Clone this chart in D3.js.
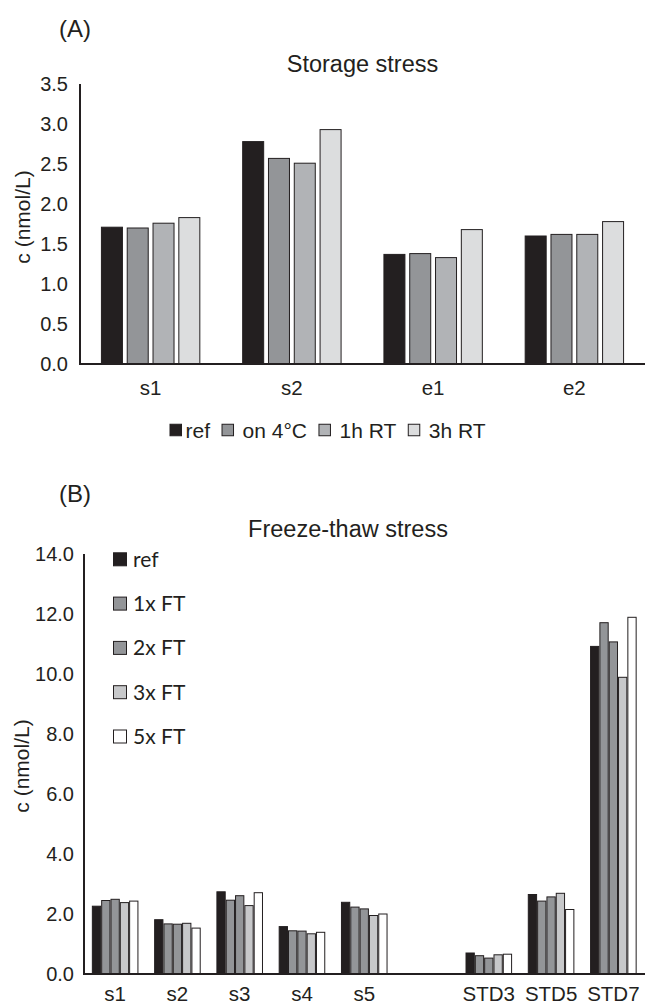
<!DOCTYPE html>
<html>
<head>
<meta charset="utf-8">
<script src="https://cdn.jsdelivr.net/npm/d3@7"></script>
<style>
  html, body { margin: 0; padding: 0; background: #ffffff; }
  svg { display: block; }
  text { fill: #231f20; font-family: "Liberation Sans", Arial, Helvetica, sans-serif; }
</style>
</head>
<body>
<script>
// ---------- Data: panel A (Storage stress) ----------
const catsA = ["s1", "s2", "e1", "e2"];
const seriesA = ["ref", "on 4°C", "1h RT", "3h RT"];
const refA   = [1.71, 2.78, 1.37, 1.60];
const on4A   = [1.70, 2.57, 1.38, 1.62];
const rt1hA  = [1.76, 2.51, 1.33, 1.62];
const rt3hA  = [1.83, 2.93, 1.68, 1.78];
const ticksA = [0, 0.5, 1.0, 1.5, 2.0, 2.5, 3.0, 3.5];

// ---------- Data: panel B (Freeze-thaw stress) ----------
const catsB = ["s1", "s2", "s3", "s4", "s5", "", "STD3", "STD5", "STD7"];
const seriesB = ["ref", "1x FT", "2x FT", "3x FT", "5x FT"];
const refB  = [2.26, 1.81, 2.74, 1.58, 2.39, null, 0.70, 2.65, 10.92];
const ft1B  = [2.45, 1.67, 2.46, 1.44, 2.23, null, 0.61, 2.43, 11.71];
const ft2B  = [2.49, 1.66, 2.61, 1.43, 2.17, null, 0.53, 2.57, 11.07];
const ft3B  = [2.38, 1.69, 2.28, 1.34, 1.95, null, 0.64, 2.69, 9.89];
const ft5B  = [2.43, 1.53, 2.71, 1.39, 2.00, null, 0.66, 2.15, 11.89];
const ticksB = [0, 2, 4, 6, 8, 10, 12, 14];

const valuesA = [refA, on4A, rt1hA, rt3hA];
const valuesB = [refB, ft1B, ft2B, ft3B, ft5B];

const colorsA = ["#231f20", "#939598", "#b1b3b6", "#dcddde"];
const colorsB = ["#231f20", "#939598", "#939598", "#c7c8ca", "#ffffff"];
const ink = "#231f20";

const svg = d3.select("body").append("svg")
  .attr("width", 645).attr("height", 1004);

// ================= PANEL A =================
(function () {
  const left = 80, right = 645, top = 84, bottom = 364;
  const x0 = d3.scaleBand().domain(catsA).range([left, right]).padding(0);
  const groupW = 103.2;
  const pin = 0.186;
  const x1 = d3.scaleBand().domain(seriesA)
    .range([(x0.bandwidth() - groupW) / 2, (x0.bandwidth() + groupW) / 2])
    .paddingInner(pin).paddingOuter(pin / 2);
  const y = d3.scaleLinear().domain([0, 3.5]).range([bottom, top]);

  svg.append("text").attr("x", 59).attr("y", 37)
    .style("font-size", "24px").text("(A)");
  svg.append("text").attr("x", (left + right) / 2).attr("y", 72)
    .attr("text-anchor", "middle").style("font-size", "23.5px").text("Storage stress");

  const data = [];
  catsA.forEach((c, i) => seriesA.forEach((s, j) => data.push({ c, s, j, v: valuesA[j][i] })));
  svg.append("g").selectAll("rect").data(data).join("rect")
    .attr("x", d => x0(d.c) + x1(d.s))
    .attr("width", x1.bandwidth())
    .attr("y", d => y(d.v))
    .attr("height", d => y(0) - y(d.v))
    .attr("fill", d => colorsA[d.j])
    .attr("stroke", ink).attr("stroke-width", 1);

  const ya = svg.append("g").attr("transform", `translate(${left},0)`)
    .call(d3.axisLeft(y).tickValues(ticksA).tickFormat(d3.format(".1f")).tickSize(0).tickPadding(12));
  ya.select(".domain").remove();
  ya.selectAll("text").style("font-size", "20px").style("font-family", '"Liberation Sans", Arial, sans-serif').attr("fill", ink);

  const xa = svg.append("g").attr("transform", `translate(0,${bottom})`)
    .call(d3.axisBottom(x0).tickSize(0).tickPadding(16.5));
  xa.select(".domain").remove();
  xa.selectAll("text").style("font-size", "20.5px").style("font-family", '"Liberation Sans", Arial, sans-serif').attr("fill", ink);

  svg.append("line").attr("x1", left).attr("x2", left).attr("y1", top).attr("y2", bottom + 1)
    .attr("stroke", ink).attr("stroke-width", 2);
  svg.append("line").attr("x1", left - 1).attr("x2", right).attr("y1", bottom).attr("y2", bottom)
    .attr("stroke", ink).attr("stroke-width", 2);

  svg.append("text")
    .attr("transform", `translate(30,${(top + bottom) / 2 - 7}) rotate(-90)`)
    .attr("text-anchor", "middle").style("font-size", "21px").text("c (nmol/L)");

  // legend (horizontal)
  const lg = svg.append("g");
  let lx = 170;
  const ly = 430, sw = 11.5;
  seriesA.forEach((s, j) => {
    lg.append("rect").attr("x", lx).attr("y", ly - sw / 2).attr("width", sw).attr("height", sw)
      .attr("fill", colorsA[j]).attr("stroke", ink).attr("stroke-width", 1);
    const t = lg.append("text").attr("x", lx + sw + (j === 0 ? 4 : 9)).attr("y", ly).attr("dy", "0.36em")
      .style("font-size", "21px").text(s);
    lx = lx + sw + (j === 0 ? 4 : 9) + t.node().getComputedTextLength() + 12;
  });
})();

// ================= PANEL B =================
(function () {
  const left = 84, right = 644.5, top = 554, bottom = 974;
  const x0 = d3.scaleBand().domain(catsB).range([left, right]).padding(0);
  const groupW = 46.6;
  const pin = 0.11;
  const x1 = d3.scaleBand().domain(seriesB)
    .range([(x0.bandwidth() - groupW) / 2, (x0.bandwidth() + groupW) / 2])
    .paddingInner(pin).paddingOuter(pin / 2);
  const y = d3.scaleLinear().domain([0, 14]).range([bottom, top]);

  svg.append("text").attr("x", 59).attr("y", 502)
    .style("font-size", "24px").text("(B)");
  svg.append("text").attr("x", 348).attr("y", 537)
    .attr("text-anchor", "middle").style("font-size", "23.5px").text("Freeze-thaw stress");

  const data = [];
  catsB.forEach((c, i) => seriesB.forEach((s, j) => {
    const v = valuesB[j][i];
    if (v != null) data.push({ c, s, j, v });
  }));
  svg.append("g").selectAll("rect").data(data).join("rect")
    .attr("x", d => x0(d.c) + x1(d.s))
    .attr("width", x1.bandwidth())
    .attr("y", d => y(d.v))
    .attr("height", d => y(0) - y(d.v))
    .attr("fill", d => colorsB[d.j])
    .attr("stroke", ink).attr("stroke-width", 1);

  const ya = svg.append("g").attr("transform", `translate(${left},0)`)
    .call(d3.axisLeft(y).tickValues(ticksB).tickFormat(d3.format(".1f")).tickSize(0).tickPadding(10));
  ya.select(".domain").remove();
  ya.selectAll("text").style("font-size", "20px").style("font-family", '"Liberation Sans", Arial, sans-serif').attr("fill", ink);

  const xa = svg.append("g").attr("transform", `translate(0,${bottom})`)
    .call(d3.axisBottom(x0).tickSize(0).tickPadding(12.5));
  xa.select(".domain").remove();
  xa.selectAll("text").style("font-size", "20.5px").style("font-family", '"Liberation Sans", Arial, sans-serif').attr("fill", ink);

  svg.append("line").attr("x1", left).attr("x2", left).attr("y1", top).attr("y2", bottom + 1)
    .attr("stroke", ink).attr("stroke-width", 2);
  svg.append("line").attr("x1", left - 1).attr("x2", 645).attr("y1", bottom).attr("y2", bottom)
    .attr("stroke", ink).attr("stroke-width", 2);

  svg.append("text")
    .attr("transform", `translate(29,${(top + bottom) / 2 + 2}) rotate(-90)`)
    .attr("text-anchor", "middle").style("font-size", "21px").text("c (nmol/L)");

  // legend (vertical)
  const lg = svg.append("g");
  const sw = 13;
  seriesB.forEach((s, j) => {
    const cy = 559.3 + j * 44.3;
    lg.append("rect").attr("x", 113.5).attr("y", cy - sw / 2).attr("width", sw).attr("height", sw)
      .attr("fill", colorsB[j]).attr("stroke", ink).attr("stroke-width", 1);
    lg.append("text").attr("x", 133).attr("y", cy).attr("dy", "0.36em")
      .style("font-family", "Lato, Carlito, 'Open Sans', sans-serif")
      .style("font-size", "21px").text(s);
  });
})();
</script>
</body>
</html>
